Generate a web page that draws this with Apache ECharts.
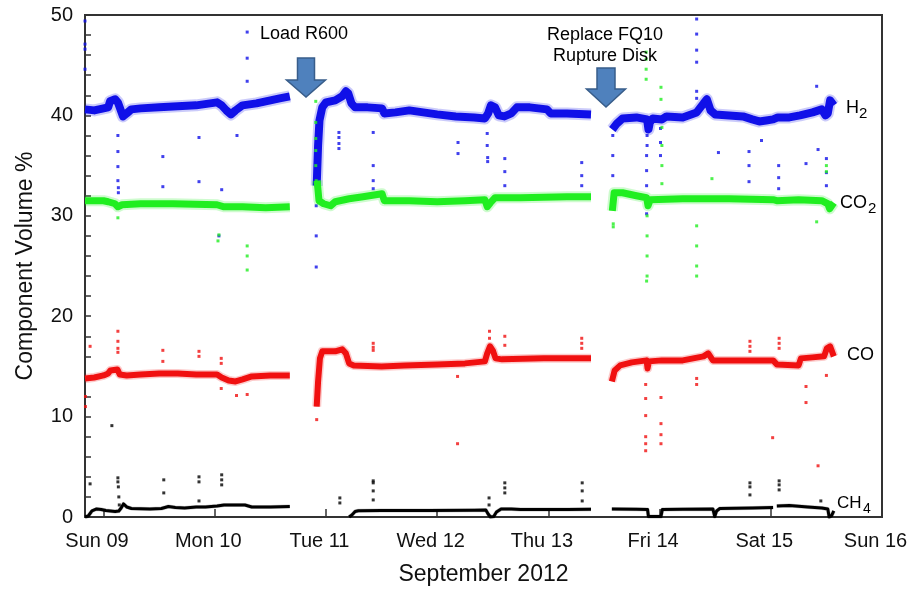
<!DOCTYPE html>
<html>
<head>
<meta charset="utf-8">
<script src="https://cdn.jsdelivr.net/npm/echarts@6/dist/echarts.min.js"></script>
<style>
html,body{margin:0;padding:0;background:#fff;}
#chart{width:912px;height:591px;}
</style>
</head>
<body>
<div id="chart"></div>
<script>
// x values: hours after Sun 09 Sep 2012 00:00; y values: component volume %
const dayTicks = [0, 24, 48, 72, 96, 120, 144, 168];
const dayLabels = ['Sun 09', 'Mon 10', 'Tue 11', 'Wed 12', 'Thu 13', 'Fri 14', 'Sat 15', 'Sun 16'];
const yTicks = [0, 10, 20, 30, 40, 50];

const h2Line = [
  [-4.0, 40.6], [-2, 40.5], [0, 40.7], [1.0, 40.8], [1.4, 41.4], [2.5, 41.6], [3.1, 41.3], [4.2, 39.9], [5.0, 40.2],
  [6, 40.6], [8, 40.7], [12, 40.8], [16, 40.9], [20, 41.0], [23, 41.2], [24.5, 41.3], [25.5, 41.0], [26.5, 40.5],
  [27.5, 40.1], [28.5, 40.5], [30, 41.0], [33, 41.2], [36, 41.5], [38, 41.7], [40.2, 41.9],
  null,
  [46.0, 33.0], [46.3, 37.0], [46.6, 39.5], [47.2, 40.8], [48, 41.3], [50, 41.5], [51.5, 41.9], [52.3, 42.4],
  [52.8, 42.2], [53.5, 41.2], [54.3, 40.8], [57, 40.8], [60.1, 40.7], [60.6, 40.2], [63, 40.3], [66, 40.5],
  [69, 40.3], [72, 40.1], [76, 39.9], [80, 39.8], [82.3, 39.7], [83, 40.2], [83.6, 41.0], [84.5, 40.8],
  [85.3, 40.0], [86.5, 39.9], [88, 40.2], [89.2, 40.8], [92, 40.8], [95.7, 40.6], [96.5, 40.2], [100, 40.2], [105.2, 40.1],
  null,
  [109.8, 38.6], [110.8, 39.2], [112, 39.7], [115, 39.8], [117.3, 39.6], [117.6, 38.6], [117.9, 39.3], [118.5, 39.7],
  [120.5, 39.6], [121.5, 39.9], [125, 39.8], [128, 40.3], [129.5, 41.2], [130.2, 41.6], [131, 40.5], [132, 40.1],
  [135, 40.0], [138, 39.9], [140, 39.6], [141.5, 39.4], [143, 39.5], [144.5, 39.6], [145.5, 39.8], [148, 39.8],
  [150.3, 40.0], [153, 40.3], [155, 40.6], [155.8, 40.0], [156.3, 40.2], [156.8, 41.5], [157.2, 41.6], [157.6, 41.0]
];
const h2Out = [
  [-4, 49.4], [-4, 47.1], [-4, 46.6], [-4, 44.6],
  [3.1, 38.0], [3.1, 36.4], [3.1, 34.9], [3.1, 33.5], [3.2, 32.8], [3.2, 32.3],
  [12.8, 35.9], [12.8, 32.9], [20.6, 37.8], [20.6, 33.4], [25.5, 32.6], [24.9, 28.0], [28.8, 38.0],
  [31.0, 48.3], [31.0, 45.7], [31.0, 43.4],
  [45.9, 35.0], [45.9, 33.0], [45.9, 31.0], [45.9, 28.0], [45.9, 24.9],
  [50.8, 38.3], [50.8, 37.8], [50.8, 37.2], [50.8, 36.7], [58.2, 38.3], [58.2, 35.0], [58.2, 33.5], [58.2, 32.7],
  [76.5, 37.3], [76.5, 36.2], [82.8, 38.2], [82.8, 37.0], [82.9, 35.8], [82.9, 35.4],
  [86.6, 35.7], [86.6, 34.4], [86.6, 33.0], [103.2, 35.3], [103.2, 34.0], [103.2, 33.0],
  [109.9, 38.0], [109.9, 36.0], [109.9, 34.0],
  [117.3, 38.0], [117.3, 37.0], [117.2, 36.0], [117.2, 34.5], [117.2, 33.0], [117.2, 31.5], [117.2, 30.2],
  [120.2, 38.7], [120.2, 37.3], [120.2, 36.0],
  [128.0, 49.6], [128.0, 48.1], [128.0, 46.5], [128.0, 45.3], [128.0, 42.4], [128.0, 41.7],
  [132.7, 36.3], [139.3, 36.4], [139.3, 35.0], [139.3, 33.4], [142, 37.5], [145.7, 35.0], [145.7, 33.8], [145.7, 32.7],
  [151.6, 35.2], [153.9, 42.9], [154.2, 36.6], [156.0, 35.7], [156.0, 34.3], [156.0, 33.0]
];

const co2Line = [
  [-4, 31.5], [0, 31.5], [1, 31.4], [2.5, 31.2], [3.1, 30.9], [4, 31.1], [8, 31.2], [15, 31.2], [24.5, 31.1],
  [26, 30.9], [30, 30.9], [35, 30.8], [40.2, 30.9],
  null,
  [46.1, 33.5], [46.5, 31.5], [47.5, 31.2], [49, 31.0], [50, 31.4], [53, 31.7], [56, 31.9], [60.1, 32.2],
  [60.6, 31.5], [66, 31.5], [72, 31.4], [78, 31.5], [82.3, 31.6], [82.8, 30.9], [83.5, 31.3], [84.5, 31.8],
  [90, 31.8], [100, 31.9], [105.2, 31.9],
  null,
  [109.8, 30.5], [110.2, 32.3], [112, 32.3], [115, 32.0], [117.2, 31.8], [117.5, 31.0], [118, 31.6], [125, 31.7],
  [135, 31.7], [144.5, 31.6], [145.3, 31.5], [150, 31.6], [155, 31.5], [156.3, 31.2], [156.7, 30.7], [157.6, 31.3]
];
const co2Out = [
  [24.7, 27.5], [24.9, 28.1], [31.0, 27.0], [31.0, 26.0], [31.0, 24.6], [3.1, 29.8],
  [45.8, 41.4], [45.8, 39.3], [45.8, 37.7], [45.8, 36.5], [45.8, 35.0], [45.9, 33.5],
  [110.0, 29.2], [110.0, 28.9],
  [117.3, 30.0], [117.3, 28.0], [117.3, 26.0], [117.3, 24.0], [117.2, 23.5],
  [117.1, 46.3], [117.1, 45.6], [117.1, 44.6], [117.1, 43.6],
  [120.3, 42.8], [120.3, 41.6], [120.5, 38.8], [120.5, 37.0], [120.5, 35.0], [120.5, 33.2],
  [128.0, 29.0], [128.0, 27.0], [128.0, 25.0], [128.0, 24.0],
  [131.3, 33.7], [153.9, 29.4], [156.0, 34.4], [156.0, 35.0]
];

const coLine = [
  [-4, 13.8], [-2, 13.9], [0, 14.1], [1, 14.3], [1.5, 14.6], [3.0, 14.7], [3.5, 14.2], [5, 14.1], [8, 14.2],
  [12, 14.3], [16, 14.3], [20, 14.2], [24.5, 14.2], [25.5, 13.9], [27, 13.6], [28.5, 13.5], [30, 13.7],
  [32, 14.0], [36, 14.1], [40.2, 14.1],
  null,
  [46.0, 11.0], [46.3, 13.5], [46.7, 15.8], [47.2, 16.5], [50, 16.5], [51.5, 16.7], [52.3, 16.3], [53, 15.3],
  [54, 15.1], [60, 15.0], [65, 15.1], [72, 15.2], [78, 15.3], [82.3, 15.5], [82.8, 16.3], [83.4, 17.0],
  [84.0, 16.6], [84.6, 15.8], [86, 15.7], [95, 15.8], [105.2, 15.8],
  null,
  [109.7, 13.5], [110.3, 14.6], [111.5, 15.1], [114, 15.4], [117.2, 15.6], [117.4, 14.8], [117.7, 15.5],
  [120.5, 15.6], [125, 15.6], [129.5, 16.0], [130.5, 16.3], [131.5, 15.6], [135, 15.6], [140, 15.6],
  [144.5, 15.6], [145.3, 15.2], [150, 15.1], [150.5, 15.8], [153, 15.9], [155.5, 16.0], [156.1, 16.8],
  [156.8, 17.0], [157.6, 16.0]
];
const coOut = [
  [-2.9, 17.0], [3.1, 18.5], [3.1, 17.5], [3.1, 16.8], [3.1, 16.4], [-3.9, 12.0], [-3.9, 11.0],
  [12.8, 16.6], [12.8, 15.5], [20.6, 16.5], [20.6, 16.0], [25.4, 15.8], [25.4, 15.3], [25.4, 12.8],
  [28.7, 12.1], [31.0, 12.2],
  [46.0, 9.7], [46.0, 11.2], [46.0, 12.1], [46.1, 13.2],
  [58.2, 17.3], [58.2, 16.9], [58.2, 16.6], [76.4, 7.3], [76.4, 14.0],
  [83.3, 18.5], [83.3, 17.8], [86.6, 18.0], [86.6, 17.1], [103.2, 17.8], [103.2, 17.3], [103.2, 16.8],
  [117.0, 13.2], [117.0, 11.8], [117.0, 10.1], [117.0, 8.0], [117.0, 7.3], [117.0, 6.6],
  [120.3, 11.9], [120.3, 9.3], [120.3, 8.2], [120.3, 7.3], [128.0, 13.8], [128.0, 13.2],
  [139.5, 17.5], [139.5, 17.0], [139.5, 16.5], [144.4, 7.9], [145.8, 17.8], [145.8, 17.3], [145.8, 16.8],
  [151.6, 13.0], [151.6, 11.4], [154.2, 5.1], [156.0, 14.1]
];

const ch4Line = [
  [-4.0, 0.0], [-3.3, 0.1], [-2.5, 0.6], [-1.5, 0.8], [-0.5, 0.75], [0.5, 0.65], [1.5, 0.6], [2.5, 0.55],
  [3.3, 0.6], [3.8, 0.9], [4.3, 1.3], [5.0, 1.0], [6, 0.85], [10, 0.8], [12.5, 0.85], [14, 1.05], [15.5, 0.95],
  [17.5, 0.9], [20, 1.0], [22, 1.0], [24.5, 1.1], [26, 1.2], [30.5, 1.2], [32, 1.0], [36, 1.0], [40.2, 1.05],
  null,
  [53.0, 0.0], [53.6, 0.2], [54.3, 0.55], [55, 0.62], [60, 0.65], [70, 0.65], [80, 0.68], [82.5, 0.7],
  [83.0, 0.3], [83.5, 0.0], [84.2, 0.05], [84.8, 0.5], [85.8, 0.8], [88, 0.8], [90, 0.74], [100, 0.74], [105.2, 0.78],
  null,
  [109.7, 0.8], [115, 0.78], [117.4, 0.75], [117.6, 0.05], [120.3, 0.05], [120.6, 0.75], [125, 0.78],
  [131.5, 0.8], [131.9, 0.05], [132.3, 0.6], [133, 0.85], [140, 0.9], [144.5, 0.95],
  null,
  [145.3, 1.1], [148, 1.15], [152, 1.0], [155, 0.9], [156.3, 0.8], [156.6, 0.0], [157.1, 0.1], [157.6, 0.6]
];
const ch4Out = [
  [1.8, 9.1], [-2.9, 3.3], [3.1, 3.9], [3.1, 3.5], [3.2, 3.0], [3.3, 2.0], [3.4, 1.2],
  [13, 3.7], [13, 2.4], [20.6, 4.0], [20.6, 3.5], [20.6, 1.6], [25.5, 4.2], [25.5, 3.7], [25.5, 3.2],
  [51, 1.9], [51, 1.4], [58.2, 3.6], [58.2, 3.4], [58.2, 2.6], [58.2, 1.7],
  [83.2, 1.9], [83.2, 1.2], [86.6, 3.4], [86.6, 2.9], [86.6, 2.4], [103.3, 3.4], [103.3, 2.6], [103.3, 1.6],
  [139.5, 3.4], [139.5, 3.0], [139.5, 2.2], [145.8, 3.6], [145.8, 3.2], [145.8, 2.7], [154.8, 1.6]
];

const FONT = "'Liberation Sans', Arial, sans-serif";
function prep(arr) { return arr.map(function (p) { return p === null ? [NaN, NaN] : p; }); }

function bandSeries(name, data, color, width, haloWidth, z) {
  return [
    { name: name + ' halo', type: 'line', data: prep(data), showSymbol: false, symbol: 'none',
      lineStyle: { color: color, width: haloWidth, opacity: 0.22, cap: 'butt', join: 'round' },
      connectNulls: false, silent: true, z: z, animation: false },
    { name: name, type: 'line', data: prep(data), showSymbol: false, symbol: 'none',
      lineStyle: { color: color, width: width, cap: 'butt', join: 'round' },
      connectNulls: false, silent: true, z: z + 1, animation: false }
  ];
}
function dotSeries(name, data, color, z) {
  return { name: name + ' points', type: 'scatter', data: data, symbol: 'rect', symbolSize: 3,
    itemStyle: { color: color }, silent: true, z: z, animation: false };
}

const chart = echarts.init(document.getElementById('chart'), null, { renderer: 'canvas' });

function arrow(cx, top, headStart, tip, shaftHalf, headHalf) {
  return {
    type: 'polygon',
    shape: { points: [
      [cx - shaftHalf, top], [cx + shaftHalf, top], [cx + shaftHalf, headStart], [cx + headHalf, headStart],
      [cx, tip], [cx - headHalf, headStart], [cx - shaftHalf, headStart]
    ] },
    style: { fill: '#4F81BD', stroke: '#385D8A', lineWidth: 1.5 },
    z: 100
  };
}
function txt(x, y, s, size, align) {
  return { type: 'text', x: x, y: y, z: 100,
    style: { text: s, fill: '#000', font: size + 'px ' + FONT, textAlign: align || 'left', textVerticalAlign: 'middle' } };
}

const option = {
  backgroundColor: '#fff',
  animation: false,
  grid: { left: 85, right: 30, top: 15, bottom: 72, containLabel: false,
    show: true, borderColor: '#333', borderWidth: 2, backgroundColor: 'transparent' },
  xAxis: {
    type: 'value', min: -4, max: 168,
    name: 'September 2012', nameLocation: 'middle', nameGap: 46,
    nameTextStyle: { fontFamily: FONT, fontSize: 23, color: '#111' },
    axisLine: { show: true, onZero: false, lineStyle: { color: '#333', width: 2 } },
    axisTick: { show: true, inside: true, length: 8, customValues: dayTicks, lineStyle: { color: '#333', width: 1.5 } },
    axisLabel: { show: true, customValues: dayTicks, margin: 14, fontFamily: FONT, fontSize: 20, color: '#111',
      padding: [0, 13, 0, 0],
      formatter: function (v) { const i = dayTicks.indexOf(Math.round(v)); return i >= 0 ? dayLabels[i] : ''; } },
    splitLine: { show: false }
  },
  yAxis: {
    type: 'value', min: 0, max: 50, interval: 10,
    name: 'Component Volume %', nameLocation: 'middle', nameGap: 48,
    nameTextStyle: { fontFamily: FONT, fontSize: 23, color: '#111' },
    axisLine: { show: true, onZero: false, lineStyle: { color: '#333', width: 2 } },
    axisTick: { show: true, inside: true, length: 6, lineStyle: { color: '#333', width: 1.5 } },
    minorTick: { show: true, splitNumber: 5, length: 6, lineStyle: { color: '#333', width: 1.5 } },
    axisLabel: { margin: 12, fontFamily: FONT, fontSize: 20, color: '#111',
      formatter: function (v) { return yTicks.indexOf(v) >= 0 ? String(v) : ''; } },
    splitLine: { show: false }
  },
  series: [].concat(
    bandSeries('H2', h2Line, '#1010E8', 8, 12, 10),
    [dotSeries('H2', h2Out, '#1010E8', 12)],
    bandSeries('CO2', co2Line, '#20EE20', 7, 11, 14),
    [dotSeries('CO2', co2Out, '#20EE20', 16)],
    bandSeries('CO', coLine, '#F01010', 6, 9, 18),
    [dotSeries('CO', coOut, '#F01010', 20)],
    bandSeries('CH4', ch4Line, '#000000', 3, 4, 22),
    [dotSeries('CH4', ch4Out, '#000000', 24)]
  ),
  graphic: [
    arrow(306, 58, 80, 97, 8.5, 19.5),
    arrow(606, 68, 89, 107, 9, 19.5),
    txt(304, 34, 'Load R600', 18, 'center'),
    txt(605, 35, 'Replace FQ10', 18, 'center'),
    txt(605, 56, 'Rupture Disk', 18, 'center'),
    txt(846, 108, 'H', 18), txt(859, 114, '2', 15),
    txt(840, 203, 'CO', 18), txt(868, 209, '2', 15),
    txt(847, 355, 'CO', 18),
    txt(837, 503, 'CH', 17), txt(863, 509, '4', 14)
  ]
};
chart.setOption(option);
</script>
</body>
</html>
